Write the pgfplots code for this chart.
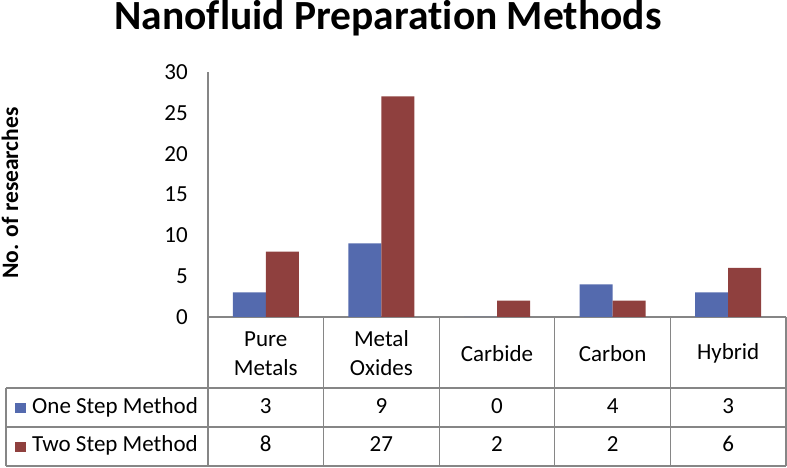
\documentclass[border=0pt]{standalone}
\usepackage{fontspec}
\setmainfont{Carlito}[Ligatures=NoCommon]
\usepackage{pgfplots}
\pgfplotsset{compat=1.18}
\usepackage{pgfplotstable}
\definecolor{oneblue}{RGB}{84,106,174}
\definecolor{twored}{RGB}{143,64,62}
\definecolor{linegray}{RGB}{134,134,134}
\pgfplotstableread{
x one two
0 3 8
1 9 27
2 0 2
3 4 2
4 3 6
}\data
\newcommand{\tfont}{\fontsize{23}{29}\selectfont}
\begin{document}
\begin{tikzpicture}
\path[use as bounding box] (0pt,0pt) rectangle (787pt,468pt);
\begin{axis}[
  at={(208pt,151pt)}, anchor=south west,
  scale only axis, width=578pt, height=245pt,
  xmin=-0.5, xmax=4.5, ymin=0, ymax=30,
  clip=false,
  axis x line*=bottom, axis y line*=left,
  axis line style={linegray, line width=1.2pt, -},
  ytick={0,5,...,30},
  major tick length=0pt,
  /pgf/number format/assume math mode=true,
  yticklabel style={anchor=east, inner sep=0pt, xshift=-20pt, font=\tfont},
  xtick={0,...,4},
  xticklabels={{Pure\\Metals},{Metal\\Oxides},{Carbide},{Carbon},{Hybrid}},
  xticklabel style={align=center, anchor=center, inner sep=0pt, yshift=-36.5pt, font=\tfont},
]
\addplot[ybar, bar width=33pt, bar shift=-16.5pt, fill=oneblue, draw=none] table[x=x, y=one]{\data};
\addplot[ybar, bar width=33pt, bar shift=16.5pt, fill=twored, draw=none] table[x=x, y=two]{\data};
\end{axis}
% data table grid
\begin{scope}[linegray, line width=1.2pt]
\foreach \xx in {208,323.6,439.2,554.8,670.4,786} \draw (\xx pt,151pt) -- (\xx pt,2pt);
\draw (6pt,80pt) -- (6pt,2pt);
\foreach \yy in {80,41,2} \draw (6pt,\yy pt) -- (786pt,\yy pt);
\end{scope}
% legend keys
\fill[oneblue] (15pt,55pt) rectangle (26pt,65pt);
\fill[twored] (15pt,16pt) rectangle (26pt,26pt);
\node[anchor=base west, inner sep=0pt, font=\tfont] at (32pt,54pt) {One Step Method};
\node[anchor=base west, inner sep=0pt, font=\tfont] at (32pt,16pt) {Two Step Method};
% table values
\foreach \v [count=\i from 0] in {3,9,0,4,3}
  \node[anchor=base, inner sep=0pt, font=\tfont] at ({(208+115.6*(\i+0.5))*1pt},54pt) {\v};
\foreach \v [count=\i from 0] in {8,27,2,2,6}
  \node[anchor=base, inner sep=0pt, font=\tfont] at ({(208+115.6*(\i+0.5))*1pt},16pt) {\v};
% title and y label
\node[anchor=base, inner sep=0pt, font=\fontsize{41.5}{50}\selectfont\bfseries] at (388pt,438pt) {Nanofluid Preparation Methods};
\node[anchor=base, rotate=90, inner sep=0pt, font=\fontsize{23.5}{28}\selectfont\bfseries] at (18pt,275pt) {No. of researches};
\end{tikzpicture}
\end{document}
